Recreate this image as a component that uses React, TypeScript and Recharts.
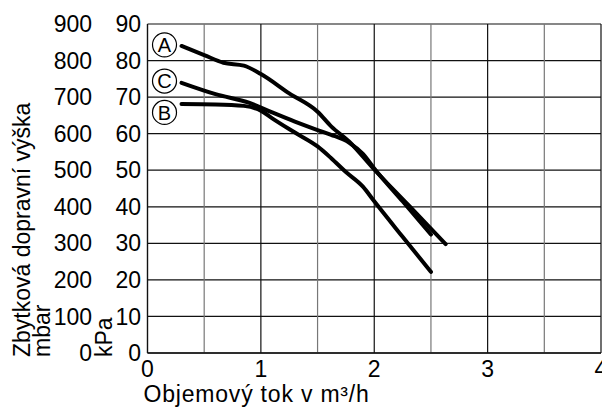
import React from 'react';
import { LineChart, Line, XAxis, YAxis, CartesianGrid, ReferenceLine, ReferenceDot } from 'recharts';

const FONT = "'Liberation Sans', Arial, Helvetica, sans-serif";

// Axis ticks / grid
const xTicks = [0, 1, 2, 3, 4];
const xGridLines = [0.5, 1, 1.5, 2, 2.5, 3, 3.5, 4];
const kPaTicks = [0, 10, 20, 30, 40, 50, 60, 70, 80, 90];
const mbarTicks = [0, 100, 200, 300, 400, 500, 600, 700, 800, 900];

// Curves: flow (m³/h) and residual head (kPa)
const curveAq = [0.3, 0.5, 0.67, 0.85, 1.0, 1.25, 1.5, 1.62, 1.78, 2.0, 2.3, 2.63];
const curveAkPa = [84, 81.5, 79.4, 78.6, 76.3, 71, 66, 62, 57.8, 50.2, 40.5, 29.8];

const curveCq = [0.3, 0.6, 0.9, 1.1, 1.3, 1.5, 1.62, 1.78, 1.9, 2.0, 2.25, 2.5];
const curveCkPa = [73.9, 70.8, 68.4, 65.8, 63.3, 61, 59.7, 57.5, 54.5, 50.5, 41.5, 32.4];

const curveBq = [0.3, 0.6, 0.85, 1.0, 1.1, 1.3, 1.5, 1.62, 1.75, 1.9, 2.0, 2.25, 2.5];
const curveBkPa = [68.1, 68.0, 67.6, 66.3, 64.2, 60.3, 56.5, 53.3, 49.5, 45.5, 41.5, 31.8, 22.2];

// Curve labels
const labelNames = ['A', 'C', 'B'];
const labelQ = 0.15;
const labelKPa = [84.3, 74.4, 65.8];

const MBAR_PER_KPA = 10;

const toPoints = (q: number[], p: number[]) => q.map((x, i) => ({ q: x, kPa: p[i], mbar: p[i] * MBAR_PER_KPA }));
const dataA = toPoints(curveAq, curveAkPa);
const dataB = toPoints(curveBq, curveBkPa);
const dataC = toPoints(curveCq, curveCkPa);

const YTitle = (props: any) => {
  const vb = props.viewBox || { x: 0, y: 24, width: 95, height: 329 };
  const bottom = vb.y + vb.height + 4;
  return (
    <g>
      <text
        transform={`rotate(-90, 29.5, ${bottom})`}
        x={29.5}
        y={bottom}
        fontSize={23}
        fontFamily={FONT}
        fill="#000"
        textAnchor="start"
      >
        Zbytková dopravní výška
      </text>
      <text
        transform={`rotate(-90, 50, ${bottom})`}
        x={50}
        y={bottom}
        fontSize={23}
        fontFamily={FONT}
        fill="#000"
        textAnchor="start"
      >
        mbar
      </text>
    </g>
  );
};

const KPaTitle = (props: any) => {
  const vb = props.viewBox || { x: 95, y: 24, width: 52, height: 329 };
  const bottom = vb.y + vb.height + 4;
  return (
    <text
      transform={`rotate(-90, 112, ${bottom})`}
      x={112}
      y={bottom}
      fontSize={23}
      fontFamily={FONT}
      fill="#000"
      textAnchor="start"
    >
      kPa
    </text>
  );
};

const XTitle = (props: any) => {
  const vb = props.viewBox || { x: 147, y: 353, width: 454, height: 64 };
  return (
    <text
      x={vb.x - 4}
      y={vb.y + 49}
      fontSize={23}
      letterSpacing={0.8}
      fontFamily={FONT}
      fill="#000"
      textAnchor="start"
    >
      Objemový tok v m³/h
    </text>
  );
};

export default function App() {
  const tickStyle = { fontSize: 23, fontFamily: FONT, fill: '#000' };
  return (
    <div style={{ position: 'absolute', left: 0, top: 0, width: 602, height: 417, background: '#fff' }}>
      <LineChart width={602} height={417} margin={{ top: 24, right: 1, bottom: 0, left: 0 }}>
        <CartesianGrid yAxisId="kPa" vertical={false} horizontal stroke="#111" strokeWidth={1.2} />
        <XAxis
          type="number"
          dataKey="q"
          domain={[0, 4]}
          ticks={xTicks}
          allowDataOverflow
          height={64}
          tickLine={false}
          tickSize={6}
          tickMargin={2}
          axisLine={{ stroke: '#111', strokeWidth: 1.4 }}
          tick={tickStyle}
          interval={0}
          label={{ content: XTitle }}
        />
        <YAxis
          yAxisId="kPa"
          type="number"
          domain={[0, 90]}
          ticks={kPaTicks}
          allowDataOverflow
          width={52}
          tickLine={false}
          tickSize={0}
          tickMargin={6.5}
          axisLine={{ stroke: '#111', strokeWidth: 1.4 }}
          tick={tickStyle}
          interval={0}
          label={{ content: KPaTitle }}
        />
        <YAxis
          yAxisId="mbar"
          type="number"
          domain={[0, 900]}
          ticks={mbarTicks}
          allowDataOverflow
          width={95.5}
          tickLine={false}
          tickSize={0}
          tickMargin={3.5}
          axisLine={false}
          tick={tickStyle}
          interval={0}
          label={{ content: YTitle }}
        />
        {xGridLines.map((v) => (
          <ReferenceLine
            key={v}
            x={v}
            yAxisId="kPa"
            stroke={Number.isInteger(v) ? '#111' : '#777'}
            strokeWidth={1.2}
          />
        ))}
        <Line data={dataA} yAxisId="mbar" dataKey="mbar" type="monotone" stroke="none" strokeWidth={0} dot={false} activeDot={false} isAnimationActive={false} legendType="none" />
        <Line data={dataA} yAxisId="kPa" dataKey="kPa" type="monotone" stroke="#000" strokeWidth={4} dot={false} isAnimationActive={false} strokeLinecap="round" />
        <Line data={dataC} yAxisId="kPa" dataKey="kPa" type="monotone" stroke="#000" strokeWidth={4} dot={false} isAnimationActive={false} strokeLinecap="round" />
        <Line data={dataB} yAxisId="kPa" dataKey="kPa" type="monotone" stroke="#000" strokeWidth={4} dot={false} isAnimationActive={false} strokeLinecap="round" />
        {labelNames.map((name, i) => (
          <ReferenceDot
            key={name}
            x={labelQ}
            y={labelKPa[i]}
            yAxisId="kPa"
            r={12}
            fill="#fff"
            stroke="#000"
            strokeWidth={1.2}
            label={{ value: name, position: 'center', fontSize: 20, fontFamily: FONT, fill: '#000' }}
          />
        ))}
      </LineChart>
    </div>
  );
}
